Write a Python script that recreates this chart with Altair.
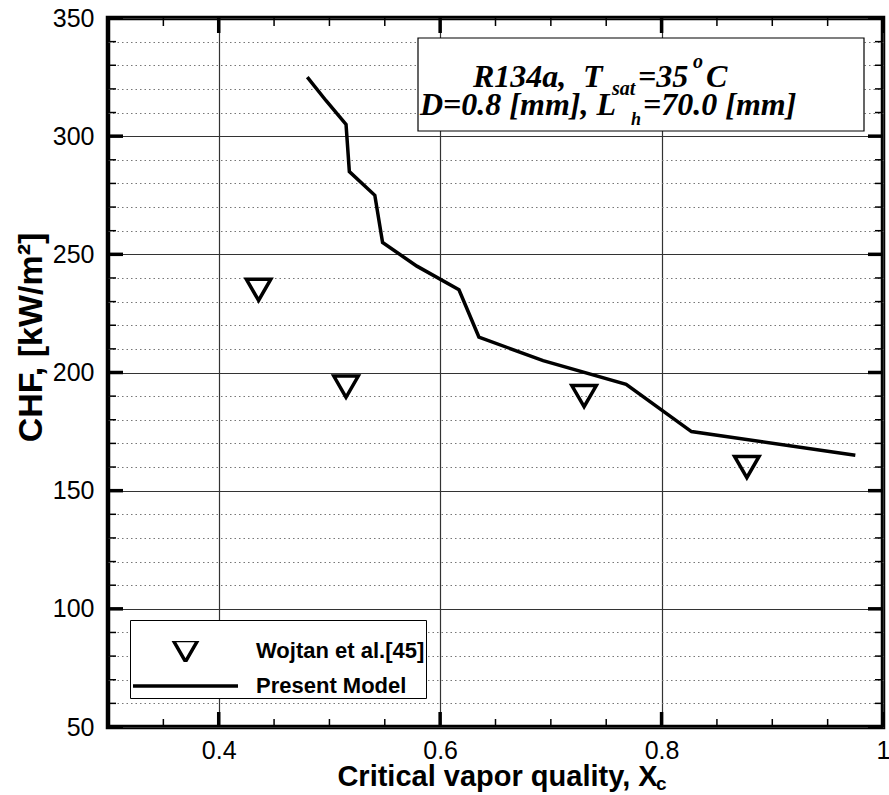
import altair as alt
import pandas as pd

# ---- data ----
model_x = [0.480, 0.497, 0.515, 0.518, 0.541, 0.548, 0.579, 0.617, 0.635, 0.693, 0.768, 0.827, 0.975]
model_y = [325, 315, 305, 285, 275, 255, 245, 235, 215, 205, 195, 175, 165]
exp_x = [0.436, 0.515, 0.730, 0.877]
exp_y = [235, 194, 190, 160]
series_names = ["Wojtan et al.[45]", "Present Model"]

x_major = [0.4, 0.6, 0.8, 1.0]
x_minor = [0.35, 0.45, 0.5, 0.55, 0.65, 0.7, 0.75, 0.85, 0.9, 0.95]
y_major = [50, 100, 150, 200, 250, 300, 350]
y_minor = [60, 70, 80, 90, 110, 120, 130, 140, 160, 170, 180, 190, 210, 220, 230, 240,
           260, 270, 280, 290, 310, 320, 330, 340]

W, H = 775, 709
SANS = "Liberation Sans"
SERIF = "Liberation Serif"
MAJ_LEN, MAJ_W = 15, 3.5
MIN_LEN, MIN_W = 8, 1.5

line_df = pd.DataFrame({"x": model_x, "y": model_y})
pt_df = pd.DataFrame({"x": exp_x, "y": exp_y, "series": [series_names[0]] * len(exp_x)})

xs = alt.Scale(domain=[0.3, 1.0], nice=False, zero=False)
ys = alt.Scale(domain=[50, 350], nice=False, zero=False)

x_label_axis = alt.Axis(orient="bottom", values=x_major, format="~g", labelFont=SANS,
                        labelFontSize=25, labelColor="black", labelPadding=11,
                        labelFlush=False, labelOverlap=False, ticks=False, domain=False,
                        grid=True, gridColor="#333333", gridWidth=1.2,
                        title="Critical vapor quality, X", titleFont=SANS,
                        titleFontSize=29, titleFontWeight="bold", titleColor="black",
                        titleX=389, titleY=58, titleBaseline="alphabetic")
y_label_axis = alt.Axis(orient="left", values=y_major, format="d", labelFont=SANS,
                        labelFontSize=25, labelColor="black", labelPadding=14,
                        labelOverlap=False, ticks=False, domain=False,
                        grid=True, gridColor="#333333", gridWidth=1.2,
                        title="CHF, [kW/m²]", titleFont=SANS, titleFontSize=34,
                        titleFontWeight="bold", titleColor="black",
                        titleX=-67, titleY=319, titleAngle=270,
                        titleBaseline="alphabetic", titleAlign="center")
y_minor_grid = alt.Axis(orient="left", values=y_minor, ticks=False, labels=False,
                        domain=False, grid=True, gridColor="#777777", gridWidth=1,
                        gridDash=[1.5, 3], title=None)

line = alt.Chart(line_df).mark_line(color="black", strokeWidth=3.5).encode(
    x=alt.X("x:Q", scale=xs, axis=x_label_axis),
    y=alt.Y("y:Q", scale=ys, axis=y_label_axis),
)

legend = alt.Legend(orient="none", legendX=22, legendY=602, direction="vertical",
                    fillColor="white", strokeColor="black", padding=1,
                    title=" ", titleFontSize=12, titlePadding=8,
                    labelFont=SANS, labelFontSize=22, labelFontWeight="bold",
                    labelColor="black", labelOffset=16, labelLimit=400,
                    clipHeight=20, rowPadding=13,
                    symbolStrokeWidth=3.5, symbolStrokeColor="black",
                    symbolFillColor="transparent")

points = alt.Chart(pt_df).mark_point(filled=False, color="black", strokeWidth=3.5,
                                     opacity=1, strokeJoin="miter").encode(
    x=alt.X("x:Q", scale=xs, axis=None),
    y=alt.Y("y:Q", scale=ys, axis=y_minor_grid),
    shape=alt.Shape("series:O", scale=alt.Scale(domain=series_names,
                                                 range=["triangle-down", "stroke"]),
                    legend=legend),
    size=alt.Size("series:O", scale=alt.Scale(domain=series_names, range=[600, 11025]),
                  legend=legend),
)


def vals(lst):
    return alt.Data(values=[{"v": v} for v in lst])


def xrules(lst, y0, y1, w):
    return alt.Chart(vals(lst)).mark_rule(color="black", strokeWidth=w).encode(
        x=alt.X("v:Q", scale=xs, axis=None), y=alt.value(y0), y2=alt.value(y1))


def yrules(lst, x0, x1, w):
    return alt.Chart(vals(lst)).mark_rule(color="black", strokeWidth=w).encode(
        y=alt.Y("v:Q", scale=ys, axis=None), x=alt.value(x0), x2=alt.value(x1))


ticks = [
    xrules(x_major, H, H - MAJ_LEN, MAJ_W),
    xrules(x_major, 0, MAJ_LEN, MAJ_W),
    yrules(y_major, 0, MAJ_LEN, MAJ_W),
    yrules(y_major, W, W - MAJ_LEN, MAJ_W),
    xrules(x_minor, H, H - MIN_LEN, MIN_W),
    xrules(x_minor, 0, MIN_LEN, MIN_W),
    yrules(y_minor, 0, MIN_LEN, MIN_W),
    yrules(y_minor, W, W - MIN_LEN, MIN_W),
]

one = alt.Data(values=[{"k": 1}])

box = alt.Chart(one).mark_rect(fill="white", stroke="black", strokeWidth=1.2).encode(
    x=alt.value(310), x2=alt.value(756), y=alt.value(20), y2=alt.value(113))


def txt(s, x, y, size=32, font=SERIF, style="italic"):
    return alt.Chart(one).mark_text(text=s, font=font, fontSize=size, fontWeight="bold",
                                    fontStyle=style, align="left", baseline="alphabetic",
                                    color="black").encode(x=alt.value(x), y=alt.value(y))


annots = [
    txt("R134a,", 365, 69),
    txt("T", 475, 69),
    txt("sat", 504, 77, size=20),
    txt("=35", 530, 69),
    txt("o", 585, 50, size=20),
    txt("C", 598, 69),
    txt("D=0.8 [mm], L", 312, 97),
    txt("h", 523, 107, size=18),
    txt("=70.0 [mm]", 535, 97),
    txt("c", 548, 772, size=19, font=SANS, style="normal"),
]

chart = alt.layer(line, points, *ticks, box, *annots).resolve_axis(
    x="independent", y="independent"
).properties(
    width=W, height=H,
    padding={"left": 108, "top": 18, "right": 6, "bottom": 68},
    autosize=alt.AutoSizeParams(type="none"),
    background="white",
).configure_view(stroke="black", strokeWidth=4.5)

chart.save("out.html", embed_options={"renderer": "svg", "actions": False})
